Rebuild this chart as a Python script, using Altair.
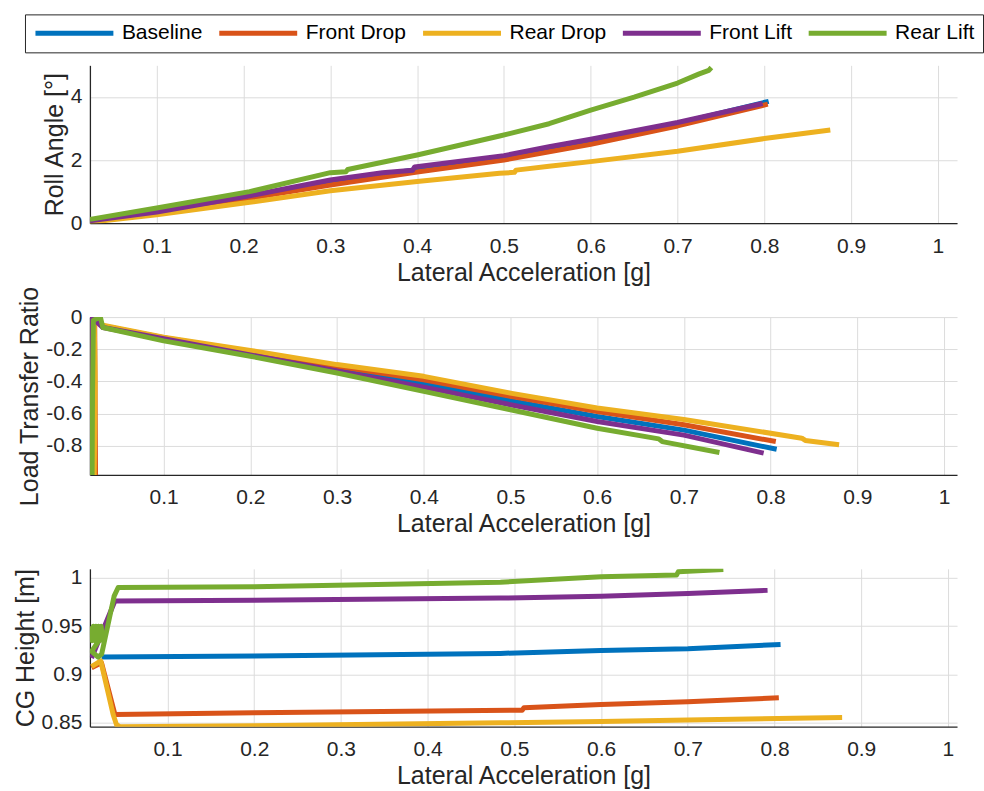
import altair as alt
import pandas as pd

series = ["Baseline", "Front Drop", "Rear Drop", "Front Lift", "Rear Lift"]
colors = ["#0072BD", "#D95319", "#EDB120", "#7E2F8E", "#77AC30"]
x_ticks = [0.1, 0.2, 0.3, 0.4, 0.5, 0.6, 0.7, 0.8, 0.9, 1]

# ---- Panel 1: Roll angle [deg] vs lateral acceleration [g]
roll_x_baseline = [0.023, 0.1, 0.207, 0.3, 0.4, 0.5, 0.6, 0.7, 0.805]
roll_y_baseline = [0.06, 0.32, 0.83, 1.3, 1.7, 2.1, 2.58, 3.16, 3.86]
roll_x_front_drop = [0.023, 0.1, 0.207, 0.3, 0.4, 0.5, 0.552, 0.6, 0.7, 0.804]
roll_y_front_drop = [0.05, 0.3, 0.79, 1.21, 1.62, 2.0, 2.26, 2.5, 3.08, 3.77]
roll_x_rear_drop = [0.023, 0.1, 0.207, 0.3, 0.4, 0.495, 0.512, 0.514, 0.552, 0.6, 0.7, 0.8, 0.876]
roll_y_rear_drop = [0.03, 0.27, 0.66, 1.03, 1.32, 1.58, 1.61, 1.68, 1.8, 1.95, 2.28, 2.68, 2.95]
roll_x_front_lift = [0.023, 0.1, 0.207, 0.3, 0.36, 0.395, 0.397, 0.5, 0.552, 0.6, 0.7, 0.798]
roll_y_front_lift = [0.08, 0.35, 0.87, 1.37, 1.6, 1.68, 1.78, 2.14, 2.42, 2.66, 3.19, 3.79]
roll_x_rear_lift = [0.023, 0.1, 0.207, 0.3, 0.318, 0.32, 0.4, 0.495, 0.552, 0.6, 0.65, 0.7, 0.725, 0.736, 0.739]
roll_y_rear_lift = [0.12, 0.48, 1.0, 1.6, 1.63, 1.7, 2.16, 2.76, 3.15, 3.58, 3.99, 4.44, 4.73, 4.84, 4.93]
roll_y_ticks = [0, 2, 4]

# ---- Panel 2: Load transfer ratio
ltr_x_baseline = [0.019, 0.02, 0.03, 0.1, 0.2, 0.3, 0.4, 0.5, 0.6, 0.7, 0.807]
ltr_y_baseline = [-1.0, -0.01, -0.055, -0.13, -0.225, -0.32, -0.41, -0.519, -0.617, -0.702, -0.821]
ltr_x_front_drop = [0.0215, 0.0205, 0.03, 0.1, 0.2, 0.3, 0.4, 0.5, 0.6, 0.7, 0.806]
ltr_y_front_drop = [-1.0, 0.0, -0.055, -0.128, -0.215, -0.305, -0.39, -0.492, -0.586, -0.669, -0.773]
ltr_x_rear_drop = [0.02, 0.021, 0.02, 0.03, 0.1, 0.2, 0.3, 0.4, 0.5, 0.6, 0.7, 0.836, 0.84, 0.879]
ltr_y_rear_drop = [-1.0, -0.4, -0.02, -0.05, -0.125, -0.207, -0.295, -0.368, -0.472, -0.565, -0.636, -0.752, -0.766, -0.793]
ltr_x_front_lift = [0.0155, 0.016, 0.017, 0.03, 0.1, 0.2, 0.3, 0.4, 0.5, 0.6, 0.7, 0.792]
ltr_y_front_lift = [-1.0, -0.17, 0.0, -0.065, -0.135, -0.235, -0.335, -0.435, -0.544, -0.648, -0.733, -0.845]
ltr_x_rear_lift = [0.0175, 0.018, 0.019, 0.027, 0.03, 0.1, 0.2, 0.3, 0.4, 0.5, 0.6, 0.671, 0.675, 0.741]
ltr_y_rear_lift = [-1.0, -0.48, -0.02, 0.0, -0.065, -0.148, -0.243, -0.347, -0.461, -0.575, -0.69, -0.756, -0.773, -0.841]
ltr_y_ticks = [-0.8, -0.6, -0.4, -0.2, 0]

# ---- Panel 3: CG height [m]
cg_x_baseline = [0.024, 0.2, 0.484, 0.6, 0.7, 0.807]
cg_y_baseline = [0.918, 0.919, 0.9218, 0.9249, 0.9266, 0.931]
cg_x_front_drop = [0.0124, 0.0239, 0.0393, 0.2, 0.509, 0.511, 0.6, 0.7, 0.805]
cg_y_front_drop = [0.907, 0.912, 0.8586, 0.8604, 0.8631, 0.8655, 0.869, 0.8718, 0.8759]
cg_x_rear_drop = [0.0124, 0.023, 0.0373, 0.0412, 0.045, 0.2, 0.484, 0.6, 0.7, 0.878]
cg_y_rear_drop = [0.908, 0.914, 0.8586, 0.848, 0.846, 0.847, 0.85, 0.8514, 0.8528, 0.8556]
cg_x_front_lift = [0.0124, 0.0393, 0.2, 0.484, 0.6, 0.7, 0.792]
cg_y_front_lift = [0.917, 0.976, 0.9768, 0.979, 0.981, 0.9838, 0.987]
cg_x_rear_lift = [0.0115, 0.013, 0.0145, 0.016, 0.0175, 0.019, 0.0205, 0.022, 0.0235, 0.0245,
                  0.0125, 0.02, 0.024, 0.0384, 0.0431, 0.2, 0.484, 0.6, 0.687, 0.689, 0.741]
cg_y_rear_lift = [0.95, 0.935, 0.95, 0.935, 0.95, 0.935, 0.95, 0.935, 0.95, 0.94,
                  0.924, 0.918, 0.921, 0.981, 0.99, 0.9907, 0.9955, 1.001, 1.0028, 1.0062, 1.0087]
cg_y_ticks = [0.85, 0.9, 0.95, 1]

FONT = "Liberation Sans"


def frame(xs_list, ys_list):
    rows = []
    for name, xs, ys in zip(series, xs_list, ys_list):
        for i, (xv, yv) in enumerate(zip(xs, ys)):
            rows.append({"series": name, "x": xv, "y": yv, "i": i})
    return pd.DataFrame(rows)


roll_df = frame([roll_x_baseline, roll_x_front_drop, roll_x_rear_drop, roll_x_front_lift, roll_x_rear_lift],
                [roll_y_baseline, roll_y_front_drop, roll_y_rear_drop, roll_y_front_lift, roll_y_rear_lift])
ltr_df = frame([ltr_x_baseline, ltr_x_front_drop, ltr_x_rear_drop, ltr_x_front_lift, ltr_x_rear_lift],
               [ltr_y_baseline, ltr_y_front_drop, ltr_y_rear_drop, ltr_y_front_lift, ltr_y_rear_lift])
cg_df = frame([cg_x_baseline, cg_x_front_drop, cg_x_rear_drop, cg_x_front_lift, cg_x_rear_lift],
              [cg_y_baseline, cg_y_front_drop, cg_y_rear_drop, cg_y_front_lift, cg_y_rear_lift])

legend = alt.Legend(
    title=None, orient="none", direction="horizontal", legendX=-65, legendY=-51,
    symbolType="stroke", symbolSize=6084, symbolStrokeWidth=5, clipHeight=22,
    labelFont=FONT, labelFontSize=21, labelColor="#000000", labelOffset=6,
    columnPadding=14, padding=8, strokeColor="#262626", fillColor="white",
)


def panel(df, xdomain, ydomain, yticks, ytitle):
    return alt.Chart(df).mark_line(strokeWidth=5, clip=True, strokeJoin="round", strokeCap="butt").encode(
        x=alt.X("x:Q", scale=alt.Scale(domain=xdomain, nice=False, zero=False),
                axis=alt.Axis(values=x_ticks, title="Lateral Acceleration [g]", labelExpr="'' + datum.value",
                              labelPadding=12, titlePadding=4)),
        y=alt.Y("y:Q", scale=alt.Scale(domain=ydomain, nice=False, zero=False),
                axis=alt.Axis(values=yticks, title=ytitle, labelExpr="'' + datum.value",
                              labelPadding=8, titlePadding=3)),
        color=alt.Color("series:N", scale=alt.Scale(domain=series, range=colors), legend=legend),
        order=alt.Order("i:Q"),
    ).properties(width=868, height=158)


p1 = panel(roll_df, [0.023, 1.022], [0, 5], roll_y_ticks, "Roll Angle [°]")
p2 = panel(ltr_df, [0.015, 1.015], [-0.98, 0.0], ltr_y_ticks, "Load Transfer Ratio")
p3 = panel(cg_df, [0.0105, 1.0105], [0.846, 1.0093], cg_y_ticks, "CG Height [m]")

chart = alt.vconcat(p1, p2, p3, spacing=94, bounds="flush").properties(
    padding={"left": 13, "top": 13, "right": 0, "bottom": 0},
    background="white",
).configure_view(stroke=None).configure_axis(
    labelFont=FONT, labelFontSize=21, labelColor="#262626",
    titleFont=FONT, titleFontSize=25, titleFontWeight="normal", titleColor="#262626",
    domainColor="#262626", domainWidth=1.3, ticks=False, tickSize=0,
    gridColor="#dcdcdc", gridWidth=1,
)

chart.save("out.html", embed_options={"renderer": "svg", "actions": False})
